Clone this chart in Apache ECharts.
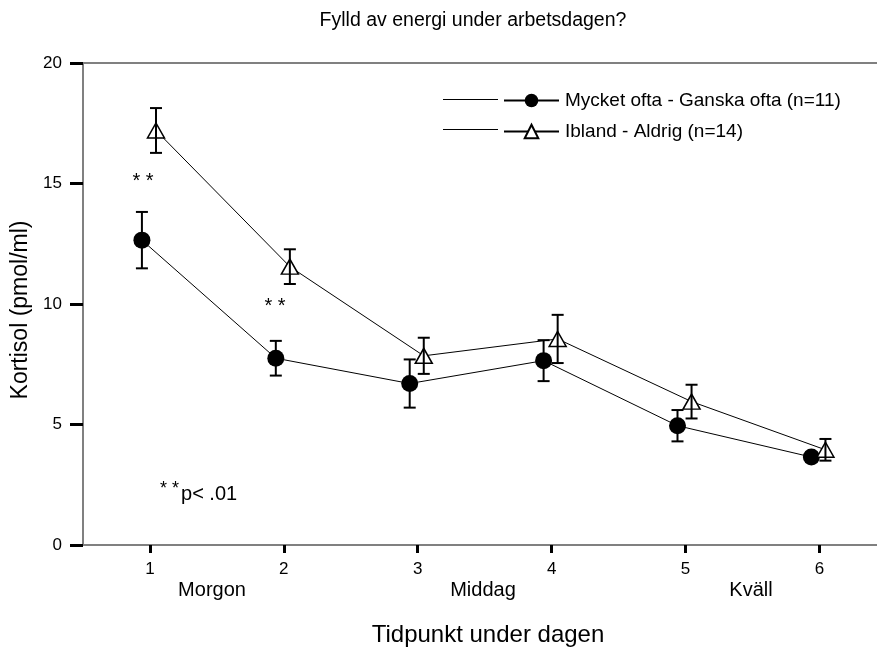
<!DOCTYPE html>
<html>
<head>
<meta charset="utf-8">
<script src="https://cdn.jsdelivr.net/npm/echarts@6/dist/echarts.min.js"></script>
<style>
html,body{margin:0;padding:0;background:#fff;}
#chart{width:877px;height:648px;}
</style>
</head>
<body>
<div id="chart"></div>
<script>
// ---- data ----
var timepoints = [1, 2, 3, 4, 5, 6];
var tickLabels = ['1', '2', '3', '4', '5', '6'];
var periodLabels = ['Morgon', 'Middag', 'Kväll'];
var seriesNames = ['Mycket ofta - Ganska ofta (n=11)', 'Ibland - Aldrig (n=14)'];
var meanA = [12.65, 7.75, 6.7, 7.65, 4.95, 3.65];
var errA  = [1.17, 0.72, 1.0, 0.85, 0.65, 0.2];
var meanB = [17.2, 11.55, 7.85, 8.55, 5.95, 3.95];
var errB  = [0.93, 0.72, 0.75, 1.0, 0.7, 0.45];
var yTicks = [0, 5, 10, 15, 20];

var offA = -0.06, offB = 0.045;
var FONT = 'Liberation Sans, Arial, sans-serif';

function pts(mean, off) {
  return mean.map(function (v, i) { return [timepoints[i] + off, v]; });
}
function errs(mean, err, off) {
  return mean.map(function (v, i) { return [timepoints[i] + off, v - err[i], v + err[i]]; });
}

function renderErr(params, api) {
  var x = api.value(0);
  var lo = api.coord([x, api.value(1)]);
  var hi = api.coord([x, api.value(2)]);
  var w = 6;
  var st = { stroke: '#000', lineWidth: 2 };
  return {
    type: 'group',
    children: [
      { type: 'line', shape: { x1: hi[0], y1: hi[1], x2: lo[0], y2: lo[1] }, style: st },
      { type: 'line', shape: { x1: hi[0] - w, y1: hi[1], x2: hi[0] + w, y2: hi[1] }, style: st },
      { type: 'line', shape: { x1: lo[0] - w, y1: lo[1], x2: lo[0] + w, y2: lo[1] }, style: st }
    ]
  };
}

var chart = echarts.init(document.getElementById('chart'), null, { renderer: 'canvas' });

function txt(s, x, y, size, align) {
  return { type: 'text', style: { text: s, x: x, y: y, font: size + 'px ' + FONT, fill: '#000',
    align: align || 'center', verticalAlign: 'middle' } };
}

var option = {
  backgroundColor: '#fff',
  animation: false,
  textStyle: { fontFamily: FONT },
  title: {
    text: 'Fylld av energi under arbetsdagen?',
    left: 468, top: 6, textAlign: 'center',
    textStyle: { fontFamily: FONT, fontSize: 19.5, fontWeight: 'normal', color: '#000' }
  },
  legend: {
    orient: 'vertical',
    left: 503, top: 91, padding: 0,
    itemWidth: 55, itemHeight: 17, itemGap: 12,
    textStyle: { fontFamily: FONT, fontSize: 19, color: '#000', padding: [0, 0, 0, 1] },
    data: seriesNames
  },
  grid: { left: 83, top: 63, right: 0, bottom: 103, containLabel: false, outerBoundsMode: 'none' },
  xAxis: [{
    type: 'value', min: 0.5, max: 6.43,
    name: 'Tidpunkt under dagen', nameLocation: 'middle', nameGap: 78,
    nameTextStyle: { fontFamily: FONT, fontSize: 24, color: '#000', padding: [0, 0, 0, 16] },
    axisLine: { show: true, lineStyle: { color: '#808080', width: 2 } },
    axisTick: { show: true, customValues: timepoints, length: 8, inside: false, lineStyle: { color: '#000', width: 3 } },
    axisLabel: {
      show: true, customValues: timepoints, margin: 16,
      fontFamily: FONT, fontSize: 17, color: '#000',
      formatter: function (v) { return tickLabels[timepoints.indexOf(v)] || ''; }
    },
    splitLine: { show: false }
  }, {
    type: 'value', min: 0.5, max: 6.43, position: 'top',
    axisLine: { show: true, lineStyle: { color: '#808080', width: 2 } },
    axisTick: { show: false }, axisLabel: { show: false }, splitLine: { show: false }
  }],
  yAxis: {
    type: 'value', min: 0, max: 20, interval: 5,
    name: 'Kortisol (pmol/ml)', nameLocation: 'middle', nameGap: 46, nameRotate: 90,
    nameTextStyle: { fontFamily: FONT, fontSize: 23, color: '#000', padding: [0, 0, 0, -12] },
    axisLine: { show: true, lineStyle: { color: '#808080', width: 2 } },
    axisTick: { show: true, length: 13, lineStyle: { color: '#000', width: 3 } },
    axisLabel: { fontFamily: FONT, fontSize: 17, color: '#000', margin: 21,
      formatter: function (v) { return yTicks.indexOf(v) >= 0 ? String(v) : ''; } },
    splitLine: { show: false }
  },
  series: [
    {
      name: seriesNames[0], type: 'line', data: pts(meanA, offA),
      symbol: 'circle', symbolSize: 17, showSymbol: true,
      lineStyle: { color: '#000', width: 1 },
      itemStyle: { color: '#000', borderColor: '#000', borderWidth: 0 },
      z: 2
    },
    {
      name: seriesNames[1], type: 'line', data: pts(meanB, offB),
      symbol: 'triangle', symbolSize: [17, 15], showSymbol: true,
      lineStyle: { color: '#000', width: 1 },
      itemStyle: { color: '#fff', borderColor: '#000', borderWidth: 1.5 },
      z: 2
    },
    {
      type: 'custom', name: 'errA', renderItem: renderErr, data: errs(meanA, errA, offA),
      encode: { x: 0, y: [1, 2] }, z: 3, silent: true
    },
    {
      type: 'custom', name: 'errB', renderItem: renderErr, data: errs(meanB, errB, offB),
      encode: { x: 0, y: [1, 2] }, z: 3, silent: true
    }
  ],
  graphic: [
    { type: 'line', shape: { x1: 443, y1: 99.5, x2: 498, y2: 99.5 }, style: { stroke: '#000', lineWidth: 1 } },
    { type: 'line', shape: { x1: 443, y1: 129.5, x2: 498, y2: 129.5 }, style: { stroke: '#000', lineWidth: 1 } },
    txt('* *', 143, 181, 20),
    txt('* *', 275, 306, 20),
    { type: 'text', style: {
        x: 160, y: 480,
        text: '{s|* *}{n|p< .01}',
        rich: { s: { fontSize: 18, fontFamily: FONT, fill: '#000', verticalAlign: 'top', padding: [0, 2, 10, 0] },
                n: { fontSize: 20, fontFamily: FONT, fill: '#000' } } } },
    txt(periodLabels[0], 212, 590, 20),
    txt(periodLabels[1], 483, 590, 20),
    txt(periodLabels[2], 751, 590, 20)
  ]
};
chart.setOption(option);
</script>
</body>
</html>
